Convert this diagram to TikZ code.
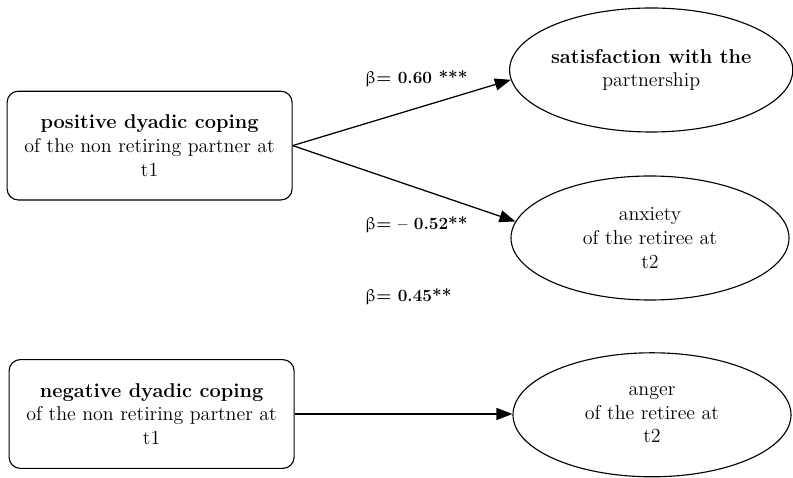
\documentclass[tikz,border=0pt]{standalone}
\usepackage{amsmath, amssymb}
\usepackage{upgreek}
\usepackage{xcolor}
\usetikzlibrary{positioning, shapes.geometric, arrows.meta}

\begin{document}
\begin{tikzpicture}[
  box/.style={draw, rounded corners=8pt, line width=0.8pt, align=center,
    inner sep=0pt, minimum width=7.125cm, minimum height=2.72cm,
    font=\fontsize{14.2}{16.8}\selectfont},
  oval/.style={draw, ellipse, line width=0.8pt, align=center, inner sep=0pt,
    minimum width=6.95cm, minimum height=3.1cm,
    font=\fontsize{14.2}{16.8}\selectfont},
  coef/.style={anchor=west, font=\fontsize{12.2}{14}\selectfont},
  arr/.style={-{Triangle[length=0.4cm, width=0.3cm]}, line width=0.9pt}]
\useasboundingbox (0,0) rectangle (19.825,11.95);

\node[box] (pos) at (3.74,8.31)
  {\textbf{positive dyadic coping}\\of the non retiring partner at\\t1};
\node[box] (neg) at (3.79,1.6)
  {\textbf{negative dyadic coping}\\of the non retiring partner at\\t1};

\node[oval] (sat) at (16.28,10.2)
  {\textbf{satisfaction with the}\\partnership};
\node[oval] (anx) at (16.25,6.0)
  {anxiety\\of the retiree at\\t2};
\node[oval] (ang) at (16.3,1.58)
  {anger\\of the retiree at\\t2};

\draw[arr] (pos.east) -- (sat.184);
\draw[arr] (pos.east) -- (anx.173);
\draw[arr] (neg.east) -- (neg.east -| ang.west);

\node[coef] (b1) at (9.0,9.98) {$\upbeta$\textbf{= 0.60 ***}};
\node[coef] (b2) at (9.0,6.33) {$\upbeta$\textbf{= -- 0.52**}};
\node[coef] (b3) at (9.0,4.53) {$\upbeta$\textbf{= 0.45**}};
\end{tikzpicture}
\end{document}
